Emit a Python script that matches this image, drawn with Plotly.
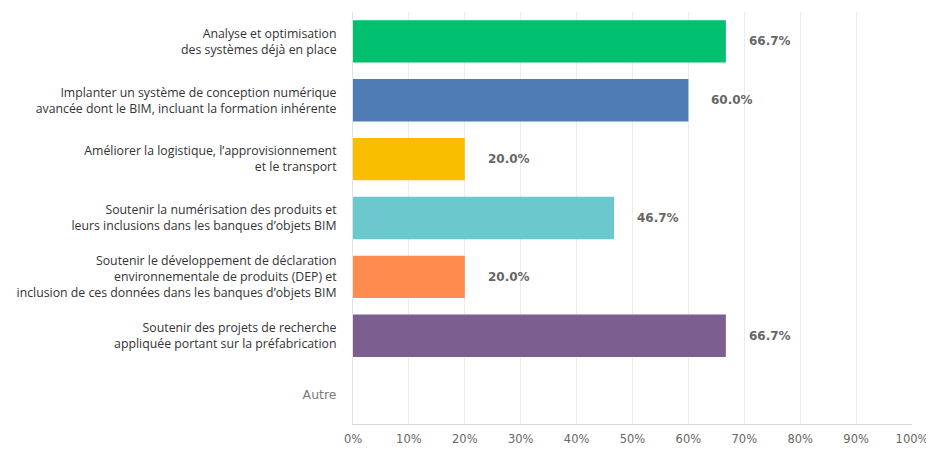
import plotly.graph_objects as go

categories = [
    "Analyse et optimisation<br>des systèmes déjà en place",
    "Implanter un système de conception numérique<br>avancée dont le BIM, incluant la formation inhérente",
    "Améliorer la logistique, l’approvisionnement<br>et le transport",
    "Soutenir la numérisation des produits et<br>leurs inclusions dans les banques d’objets BIM",
    "Soutenir le développement de déclaration<br>environnementale de produits (DEP) et<br>inclusion de ces données dans les banques d’objets BIM",
    "Soutenir des projets de recherche<br>appliquée portant sur la préfabrication",
    "Autre",
]
values = [66.7, 60.0, 20.0, 46.7, 20.0, 66.7, 0.0]
colors = ["#00BF6F", "#507CB6", "#F9BE00", "#6BC8CD", "#FF8B4F", "#7D5E90", "#FFFFFF"]
tick_vals = [0, 10, 20, 30, 40, 50, 60, 70, 80, 90, 100]
tick_text = ["0%", "10%", "20%", "30%", "40%", "50%", "60%", "70%", "80%", "90%", "100%"]

fig = go.Figure()
fig.add_trace(go.Bar(
    x=values, y=categories, orientation="h",
    marker=dict(color=colors, line=dict(width=0)),
    width=0.72, hoverinfo="skip",
))

for c, v in zip(categories, values):
    if v > 0:
        fig.add_annotation(x=v, y=c, text=f"<b>{v:.1f}%</b>", showarrow=False,
                           xanchor="left", xshift=21,
                           font=dict(family="DejaVu Sans, sans-serif", size=12, color="#666"))

ticktext_y = [c if c != "Autre" else "<span style='color:#7a7a7a; font-family:DejaVu Sans; font-size:12.5px'>Autre</span>" for c in categories]

# page body has an 8px default margin, so the figure is offset by 8px
fig.update_layout(
    width=926, height=443,
    margin=dict(l=345, r=22, t=4, b=27, autoexpand=False),
    paper_bgcolor="white", plot_bgcolor="white",
    showlegend=False,
    font=dict(family="Open Sans, sans-serif", size=12.3, color="#333"),
    xaxis=dict(range=[0, 100], tickvals=tick_vals, ticktext=tick_text,
               showgrid=True, gridcolor="#ececec", gridwidth=1,
               zeroline=False, showline=True, linecolor="#d9d9d9",
               tickfont=dict(family="DejaVu Sans, sans-serif", size=11.5, color="#666"),
               ticks="", ticklabelstandoff=4, automargin=False, fixedrange=True),
    yaxis=dict(autorange="reversed", tickmode="array", tickvals=categories, ticktext=ticktext_y,
               showline=True, linecolor="#e3e3e3", ticks="", ticklabelstandoff=13,
               tickfont=dict(family="Open Sans, sans-serif", size=12.3, color="#333"),
               showgrid=False, automargin=False),
)

fig.write_html("out.html")
